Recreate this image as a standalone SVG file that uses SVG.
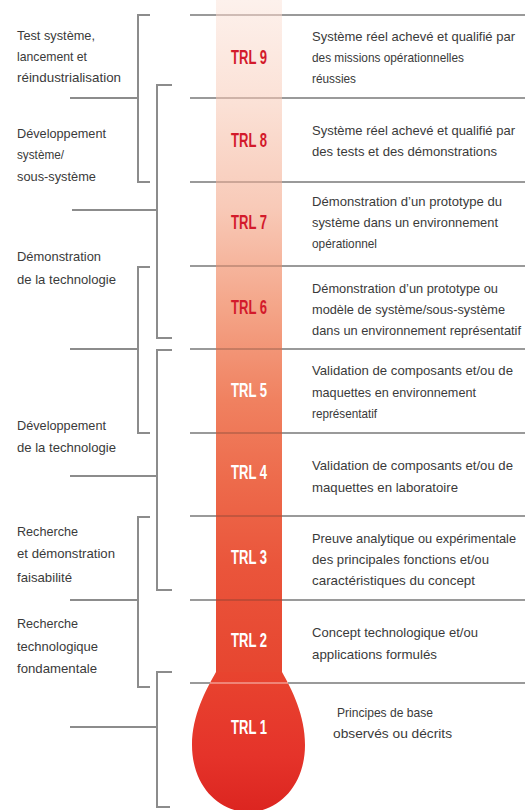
<svg xmlns="http://www.w3.org/2000/svg" width="525" height="810" viewBox="0 0 525 810">
<style>
.t{font-family:"Liberation Sans",Arial,sans-serif;font-size:13.5px;fill:#3a3a3a}
.s{font-size:12.8px}
.trl{font-family:"Liberation Sans",Arial,sans-serif;font-size:21px;font-weight:bold;text-anchor:middle}
.red{fill:#d31a2b}
.wh{fill:#ffffff}
.sep{stroke:#9a9a9a;stroke-width:2;fill:none}
.sepc{stroke:#5a3a30;stroke-opacity:0.28;stroke-width:2}
.br{stroke:#8c8c8c;stroke-width:2;fill:none}
</style>
<defs>
<linearGradient id="col" x1="0" y1="0" x2="0" y2="690" gradientUnits="userSpaceOnUse">
<stop offset="0" stop-color="#fdf1ec"/>
<stop offset="0.15" stop-color="#fbe1d6"/>
<stop offset="0.3" stop-color="#f8cab8"/>
<stop offset="0.45" stop-color="#f4a487"/>
<stop offset="0.58" stop-color="#f08160"/>
<stop offset="0.7" stop-color="#ed6a4b"/>
<stop offset="0.82" stop-color="#ea553b"/>
<stop offset="1" stop-color="#e6432e"/>
</linearGradient>
<linearGradient id="bulb" x1="0" y1="672" x2="0" y2="812" gradientUnits="userSpaceOnUse">
<stop offset="0" stop-color="#e8442f"/>
<stop offset="0.6" stop-color="#e5332a"/>
<stop offset="1" stop-color="#dc2520"/>
</linearGradient>
</defs>

<g id="thermometer">
<rect x="216" y="0" width="66" height="690" fill="url(#col)"/>
<path d="M216,672 C206,690 192,715 192,745 C192,785 218,812 248.5,812 C279,812 305,785 305,745 C305,715 292,690 282,672 Z" fill="url(#bulb)"/>
</g>

<g id="separators">
<path class="sep" d="M190,15H216M282,15H525M190,98H216M282,98H525M190,182H216M282,182H525M190,266H216M282,266H525M190,349H216M282,349H525M190,433H216M282,433H525M190,516H216M282,516H525M190,600H216M282,600H525M190,683H210M288,683H525"/>
<path class="sepc" d="M216,15H282M216,98H282M216,182H282M216,266H282M216,349H282M216,433H282M216,516H282M216,600H282"/>
<path d="M210,683H288" stroke="#ffffff" stroke-opacity="0.35" stroke-width="2"/>
</g>

<g id="connectors">
<path class="br" d="M150,15H138V182H150M70,98H138"/>
<path class="br" d="M172,85H157V338H172M72,210H157"/>
<path class="br" d="M150,267H138V433H150M70,349H138"/>
<path class="br" d="M172,350H157V590H172M70,476H157"/>
<path class="br" d="M150,517H138V687H150M70,600H138"/>
<path class="br" d="M172,672H157V807H170M70,727H157"/>
</g>

<g id="phase-test-systeme">
<text class="t" x="17" y="40" textLength="78" lengthAdjust="spacingAndGlyphs">Test système,</text>
<text class="t" x="17" y="61" textLength="70" lengthAdjust="spacingAndGlyphs">lancement et</text>
<text class="t" x="17" y="82" textLength="104" lengthAdjust="spacingAndGlyphs">réindustrialisation</text>
</g>
<g id="phase-dev-systeme">
<text class="t" x="17" y="138" textLength="89" lengthAdjust="spacingAndGlyphs">Développement</text>
<text class="t" x="17" y="159" textLength="47" lengthAdjust="spacingAndGlyphs">système/</text>
<text class="t" x="17" y="181" textLength="79" lengthAdjust="spacingAndGlyphs">sous-système</text>
</g>
<g id="phase-demo-techno">
<text class="t" x="17" y="261" textLength="84" lengthAdjust="spacingAndGlyphs">Démonstration</text>
<text class="t" x="17" y="284" textLength="99" lengthAdjust="spacingAndGlyphs">de la technologie</text>
</g>
<g id="phase-dev-techno">
<text class="t" x="17" y="430" textLength="89" lengthAdjust="spacingAndGlyphs">Développement</text>
<text class="t" x="17" y="452" textLength="99" lengthAdjust="spacingAndGlyphs">de la technologie</text>
</g>
<g id="phase-recherche-faisabilite">
<text class="t" x="17" y="536" textLength="61" lengthAdjust="spacingAndGlyphs">Recherche</text>
<text class="t" x="17" y="558" textLength="98" lengthAdjust="spacingAndGlyphs">et démonstration</text>
<text class="t" x="17" y="582" textLength="55" lengthAdjust="spacingAndGlyphs">faisabilité</text>
</g>
<g id="phase-recherche-fondamentale">
<text class="t" x="17" y="628" textLength="61" lengthAdjust="spacingAndGlyphs">Recherche</text>
<text class="t" x="17" y="651" textLength="81" lengthAdjust="spacingAndGlyphs">technologique</text>
<text class="t" x="17" y="673" textLength="80" lengthAdjust="spacingAndGlyphs">fondamentale</text>
</g>

<g id="trl9">
<text class="trl red" x="249" y="64" textLength="36" lengthAdjust="spacingAndGlyphs">TRL 9</text>
<text class="t" x="312" y="41" textLength="203" lengthAdjust="spacingAndGlyphs">Système réel achevé et qualifié par</text>
<text class="t" x="312" y="62" textLength="152" lengthAdjust="spacingAndGlyphs">des missions opérationnelles</text>
<text class="t" x="312" y="83" textLength="44" lengthAdjust="spacingAndGlyphs">réussies</text>
</g>
<g id="trl8">
<text class="trl red" x="249" y="147" textLength="36" lengthAdjust="spacingAndGlyphs">TRL 8</text>
<text class="t" x="312" y="135" textLength="203" lengthAdjust="spacingAndGlyphs">Système réel achevé et qualifié par</text>
<text class="t" x="312" y="156" textLength="185" lengthAdjust="spacingAndGlyphs">des tests et des démonstrations</text>
</g>
<g id="trl7">
<text class="trl red" x="249" y="229" textLength="36" lengthAdjust="spacingAndGlyphs">TRL 7</text>
<text class="t" x="312" y="206" textLength="190" lengthAdjust="spacingAndGlyphs">Démonstration d’un prototype du</text>
<text class="t" x="312" y="227" textLength="186" lengthAdjust="spacingAndGlyphs">système dans un environnement</text>
<text class="t" x="312" y="248" textLength="65" lengthAdjust="spacingAndGlyphs">opérationnel</text>
</g>
<g id="trl6">
<text class="trl red" x="249" y="314" textLength="36" lengthAdjust="spacingAndGlyphs">TRL 6</text>
<text class="t" x="312" y="293" textLength="186" lengthAdjust="spacingAndGlyphs">Démonstration d’un prototype ou</text>
<text class="t" x="312" y="314" textLength="193" lengthAdjust="spacingAndGlyphs">modèle de système/sous-système</text>
<text class="t s" x="312" y="335" textLength="209" lengthAdjust="spacingAndGlyphs">dans un environnement représentatif</text>
</g>
<g id="trl5">
<text class="trl wh" x="249" y="397" textLength="36" lengthAdjust="spacingAndGlyphs">TRL 5</text>
<text class="t" x="312" y="375" textLength="201" lengthAdjust="spacingAndGlyphs">Validation de composants et/ou de</text>
<text class="t" x="312" y="397" textLength="164" lengthAdjust="spacingAndGlyphs">maquettes en environnement</text>
<text class="t" x="312" y="418" textLength="65" lengthAdjust="spacingAndGlyphs">représentatif</text>
</g>
<g id="trl4">
<text class="trl wh" x="249" y="479" textLength="36" lengthAdjust="spacingAndGlyphs">TRL 4</text>
<text class="t" x="312" y="470" textLength="201" lengthAdjust="spacingAndGlyphs">Validation de composants et/ou de</text>
<text class="t" x="312" y="492" textLength="146" lengthAdjust="spacingAndGlyphs">maquettes en laboratoire</text>
</g>
<g id="trl3">
<text class="trl wh" x="249" y="564" textLength="36" lengthAdjust="spacingAndGlyphs">TRL 3</text>
<text class="t s" x="312" y="543" textLength="204" lengthAdjust="spacingAndGlyphs">Preuve analytique ou expérimentale</text>
<text class="t" x="312" y="564" textLength="177" lengthAdjust="spacingAndGlyphs">des principales fonctions et/ou</text>
<text class="t" x="312" y="585" textLength="163" lengthAdjust="spacingAndGlyphs">caractéristiques du concept</text>
</g>
<g id="trl2">
<text class="trl wh" x="249" y="647" textLength="36" lengthAdjust="spacingAndGlyphs">TRL 2</text>
<text class="t" x="312" y="637" textLength="166" lengthAdjust="spacingAndGlyphs">Concept technologique et/ou</text>
<text class="t" x="312" y="659" textLength="125" lengthAdjust="spacingAndGlyphs">applications formulés</text>
</g>
<g id="trl1">
<text class="trl wh" x="249" y="734" textLength="36" lengthAdjust="spacingAndGlyphs">TRL 1</text>
<text class="t" x="337" y="717" textLength="96" lengthAdjust="spacingAndGlyphs">Principes de base</text>
<text class="t" x="333" y="738" textLength="119" lengthAdjust="spacingAndGlyphs">observés ou décrits</text>
</g>
</svg>
